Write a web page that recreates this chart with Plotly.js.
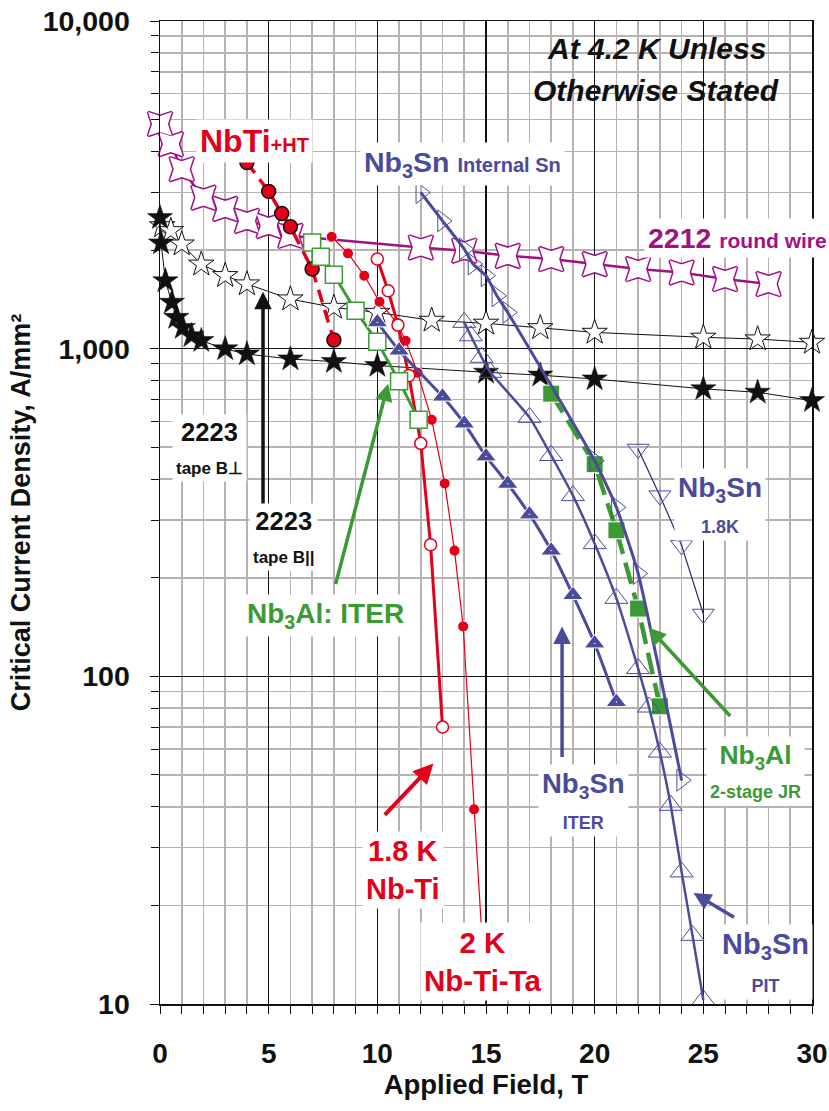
<!DOCTYPE html>
<html>
<head>
<meta charset="utf-8">
<script src="https://cdn.plot.ly/plotly-3.0.1.min.js"></script>
<style>
  html, body { margin: 0; padding: 0; background: #fff; }
  #chart { width: 829px; height: 1111px; }
</style>
</head>
<body>
<div id="chart"></div>
<script>
// Critical current density (A/mm²) versus applied field (T)

// Bi-2223 tape, field parallel to tape
const tapePar_B  = [0.1, 0.5, 1, 1.9, 3, 4, 6, 8, 10, 12.5, 15, 17.5, 20, 25, 27.5, 30];
const tapePar_Jc = [2370, 2290, 2085, 1810, 1670, 1575, 1417, 1336, 1290, 1220, 1195, 1158, 1121, 1083, 1070, 1045];

// Bi-2223 tape, field perpendicular to tape
const tapePerp_B  = [0, 0.05, 0.25, 0.55, 0.75, 1.05, 1.45, 1.9, 3, 4, 6, 8, 10, 15, 17.5, 20, 25, 27.5, 30];
const tapePerp_Jc = [2510, 2100, 1610, 1385, 1245, 1160, 1095, 1058, 998, 963, 930, 913, 888, 847, 830, 808, 754, 736, 694];

// Bi-2212 round wire
const w2212_B  = [0, 0.5, 1, 2, 3, 4, 5, 6, 12, 14, 16, 18, 20, 22, 24, 26, 28];
const w2212_Jc = [4850, 4210, 3530, 2890, 2670, 2455, 2370, 2210, 2036, 1990, 1920, 1877, 1812, 1750, 1708, 1631, 1575];

// Nb-Ti with heat treatment, 4.2 K
const nbtiHT_B  = [4, 5, 5.6, 6, 7, 8];
const nbtiHT_Jc = [3700, 3020, 2585, 2355, 1750, 1063];

// Nb-Ti-Ta at 2 K
const nbtita_B  = [7.9, 8.65, 9.4, 10.1, 10.9, 11.3, 11.85, 12.5, 13.1, 13.55, 13.95, 14.45, 15];
const nbtita_Jc = [2195, 1954, 1670, 1391, 1199, 1058, 845, 607, 388, 242, 142, 39.3, 10];

// Nb-Ti at 1.8 K
const nbti18_B  = [10, 10.5, 10.95, 11.45, 12, 12.45, 13];
const nbti18_Jc = [1877, 1502, 1180, 828, 514, 252, 70];

// Nb3Al, ITER conductor
const nb3alIter_B  = [7, 7.4, 8, 9, 10, 11, 11.9];
const nb3alIter_Jc = [2110, 1908, 1681, 1306, 1050, 796, 607];

// Nb3Al, two-stage jelly roll
const nb3alJR_B  = [18, 20, 21, 22, 23];
const nb3alJR_Jc = [729, 444, 279, 161, 81];

// Nb3Sn, ITER conductor
const snIter_B  = [10, 11, 13, 14, 15, 16, 17, 18, 19, 20, 21];
const snIter_Jc = [1203, 987, 714, 591, 469, 387, 312, 242, 177, 126, 83.5];

// Nb3Sn, powder-in-tube
const snPit_B  = [14, 14.3, 14.8, 15.2, 17, 18, 19, 20, 21, 22, 22.5, 23, 23.5, 24, 24.5, 25];
const snPit_Jc = [1203, 1095, 941, 847, 617, 472, 356, 254, 173, 105.6, 80.6, 58.7, 40.4, 25.3, 16.2, 10.3];

// Nb3Sn, internal tin
const snInt_B  = [12, 13, 14, 14.4, 15, 15.5, 16, 20, 21, 22, 24];
const snInt_Jc = [2996, 2455, 2014, 1813, 1670, 1450, 1290, 455, 328, 206, 48.2];

// Nb3Sn at 1.8 K
const sn18_B  = [22, 23, 24, 25];
const sn18_Jc = [494, 356, 251, 155];

// Axis ticks
const xTickVals = [0, 5, 10, 15, 20, 25, 30];
const yTickVals = [10, 100, 1000, 10000];
const yTickText = ['10', '100', '1,000', '10,000'];

const FONT = 'Liberation Sans, Arial, Helvetica, sans-serif';
const RED = '#e2001a';
const MAG = '#a01283';
const BLUE = '#4b4b9b';
const NAVY = '#27277a';
const GREEN = '#3c9a34';
const INK = '#111111';

// minor grid on the log axis: 2..9 in each decade
const yMinor = [];
[10, 100, 1000].forEach(d => { for (let k = 2; k <= 9; k++) yMinor.push(d * k); });

function series(x, y, opts) {
  return Object.assign({ type: 'scatter', mode: 'lines+markers', x: x, y: y, cliponaxis: false, hoverinfo: 'skip' }, opts);
}

// four-pointed open star for the 2212 wire: two crossed thin diamonds,
// outlined first, then filled white to hide the inner edges
function fourPointStar(x, y, color, size) {
  const layers = [];
  ['diamond-tall', 'diamond-wide'].forEach(sym => layers.push(series(x, y, {
    mode: 'markers',
    marker: { symbol: sym, angle: 45, size: size, color: 'white', line: { color: color, width: 3 } }
  })));
  ['diamond-tall', 'diamond-wide'].forEach(sym => layers.push(series(x, y, {
    mode: 'markers',
    marker: { symbol: sym, angle: 45, size: size, color: 'white', line: { width: 0 } }
  })));
  return layers;
}

const traces = [
  series(tapePar_B, tapePar_Jc, {
    line: { color: INK, width: 1 },
    marker: { symbol: 'star', size: 19, color: 'white', line: { color: INK, width: 1 } }
  }),
  series(tapePerp_B, tapePerp_Jc, {
    line: { color: INK, width: 1 },
    marker: { symbol: 'star', size: 19, color: INK, line: { color: INK, width: 0.5 } }
  }),
  series(w2212_B, w2212_Jc, {
    mode: 'lines',
    line: { color: MAG, width: 2.5 }
  })
].concat(fourPointStar(w2212_B, w2212_Jc, MAG, 24)).concat([
  series(nbtiHT_B, nbtiHT_Jc, {
    line: { color: RED, width: 3.5, dash: '13px,8px' },
    marker: { symbol: 'circle', size: 14, color: RED, line: { color: INK, width: 1.5 } }
  }),
  series(nbtita_B.slice(0, -1), nbtita_Jc.slice(0, -1), {
    mode: 'markers',
    marker: { symbol: 'circle', size: 11, color: RED, line: { color: 'white', width: 1 } }
  }),
  series(nbtita_B, nbtita_Jc, {
    mode: 'lines',
    line: { color: RED, width: 1.2 }
  }),
  series(nbti18_B, nbti18_Jc, {
    line: { color: RED, width: 3 },
    marker: { symbol: 'circle', size: 12, color: 'white', line: { color: RED, width: 1.5 } }
  }),
  series(nb3alIter_B, nb3alIter_Jc, {
    line: { color: GREEN, width: 3 },
    marker: { symbol: 'square', size: 17, color: 'white', line: { color: GREEN, width: 1.5 } }
  }),
  series(nb3alJR_B, nb3alJR_Jc, {
    line: { color: GREEN, width: 4.5, dash: '22px,9px' },
    marker: { symbol: 'square', size: 17, color: GREEN, line: { color: 'white', width: 1 } }
  }),
  series(snIter_B, snIter_Jc, {
    line: { color: BLUE, width: 3, shape: 'spline', smoothing: 0.5 },
    marker: { symbol: 'triangle-up-dot', size: 18, color: BLUE, line: { color: 'white', width: 1 } }
  }),
  series(snPit_B, snPit_Jc, {
    line: { color: BLUE, width: 2.5, shape: 'spline', smoothing: 0.5 },
    marker: { symbol: 'triangle-up-open-dot', size: 20, color: BLUE, line: { width: 1 } }
  }),
  series(snInt_B, snInt_Jc, {
    line: { color: BLUE, width: 3, shape: 'spline', smoothing: 0.5 },
    marker: { symbol: 'triangle-right-open-dot', size: 19, color: BLUE, line: { width: 1 } }
  }),
  series(sn18_B, sn18_Jc, {
    line: { color: NAVY, width: 1.2 },
    marker: { symbol: 'triangle-down-open-dot', size: 19, color: BLUE, line: { width: 1 } }
  })
]);

function label(text, x, jc, size, color, extra) {
  return Object.assign({
    xref: 'x', yref: 'y', x: x, y: Math.log10(jc), text: text, showarrow: false,
    font: { family: FONT, size: size, color: color, weight: 'bold' },
    bgcolor: 'white', borderpad: 3, align: 'center'
  }, extra || {});
}

function arrow(x, jc, ax, ay, color, width) {
  return {
    xref: 'x', yref: 'y', x: x, y: Math.log10(jc), text: '', showarrow: true,
    ax: ax, ay: ay, arrowcolor: color, arrowwidth: width, arrowhead: 2, arrowsize: 1, standoff: 0
  };
}

const small = (t, s) => '<span style="font-size:' + s + 'px">' + t + '</span>';
const italic = { bgcolor: 'rgba(0,0,0,0)', font: { family: FONT, size: 30, color: INK, weight: 'bold', style: 'italic' } };

const annotations = [
  arrow(4.74, 1493, 0, 217, INK, 3.5),
  arrow(10.5, 782, -53, 202, GREEN, 3.5),
  arrow(18.5, 142, 0, 132, BLUE, 3.5),
  arrow(22.48, 141, 83, 90, GREEN, 3.5),
  arrow(12.58, 54.2, -50, 53, RED, 4),
  arrow(24.55, 21.8, 42, 25, BLUE, 3.5),

  label('At 4.2 K Unless', 22.84, 8216, 30, INK, italic),
  label('Otherwise Stated', 22.84, 6117, 30, INK, italic),
  label('NbTi' + small('+HT', 20), 4.37, 4305, 32, RED),
  label('Nb<sub>3</sub>Sn ' + small('Internal Sn', 20), 13.9, 3664, 28.5, BLUE),
  label('2212 ' + small('round wire', 21), 26.56, 2178, 28.5, MAG),
  label('2223<br>' + small('tape B⊥', 17), 2.30, 499, 25.5, INK),
  label('2223<br>' + small('tape B||', 17), 5.66, 265.5, 25.5, INK),
  label('Nb<sub>3</sub>Al: ITER', 7.6, 153.5, 28, GREEN),
  label('Nb<sub>3</sub>Sn<br>' + small('1.8K', 18), 25.78, 334, 28, BLUE),
  label('Nb<sub>3</sub>Sn<br>' + small('ITER', 18), 19.47, 41.9, 27.5, BLUE),
  label('Nb<sub>3</sub>Al<br>' + small('2-stage JR', 18), 27.4, 51.3, 26.5, GREEN),
  label('1.8 K<br>Nb-Ti', 11.19, 25.6, 29, RED),
  label('2 K<br>Nb-Ti-Ta', 14.83, 13.5, 29.5, RED),
  label('Nb<sub>3</sub>Sn<br>' + small('PIT', 18), 27.85, 13.4, 29, BLUE)
];

const layout = {
  width: 829, height: 1111,
  margin: { l: 160, r: 17, t: 21, b: 107 },
  paper_bgcolor: 'white', plot_bgcolor: 'white',
  showlegend: false,
  font: { family: FONT, color: INK },
  xaxis: {
    range: [0, 30], tickmode: 'array', tickvals: xTickVals,
    showgrid: true, gridcolor: INK, gridwidth: 1.2, zeroline: false,
    showline: true, linecolor: INK, linewidth: 1.5, mirror: true,
    ticks: 'outside', ticklen: 8, tickcolor: INK, tickwidth: 1,
    tickfont: { family: FONT, size: 28, weight: 'bold', color: INK },
    ticklabelstandoff: 16,
    minor: { dtick: 1, showgrid: true, gridcolor: '#bab2b2', gridwidth: 1.6, ticks: 'outside', ticklen: 8, tickcolor: INK },
    title: { text: 'Applied Field, T', font: { family: FONT, size: 27.5, weight: 'bold', color: INK }, standoff: 6 }
  },
  yaxis: {
    type: 'log', range: [1, 4], tickmode: 'array', tickvals: yTickVals, ticktext: yTickText,
    showgrid: true, gridcolor: INK, gridwidth: 1.2, zeroline: false,
    showline: true, linecolor: INK, linewidth: 1.5, mirror: true,
    ticks: 'outside', ticklen: 9, tickcolor: INK, tickwidth: 1,
    tickfont: { family: FONT, size: 28.5, weight: 'bold', color: INK },
    ticklabelstandoff: 14,
    minor: { tickmode: 'array', tickvals: yMinor, showgrid: true, gridcolor: '#bab2b2', gridwidth: 1.6, ticks: 'outside', ticklen: 8, tickcolor: INK },
    title: { text: 'Critical Current Density, A/mm²', font: { family: FONT, size: 27, weight: 'bold', color: INK }, standoff: 4 }
  },
  shapes: [
    { type: 'rect', xref: 'paper', yref: 'paper', x0: 0.56, x1: 0.966, y0: 0.907, y1: 0.996,
      fillcolor: 'white', line: { width: 0 }, layer: 'between' }
  ],
  annotations: annotations
};

Plotly.newPlot('chart', traces, layout, { displayModeBar: false, staticPlot: true });
</script>
</body>
</html>
